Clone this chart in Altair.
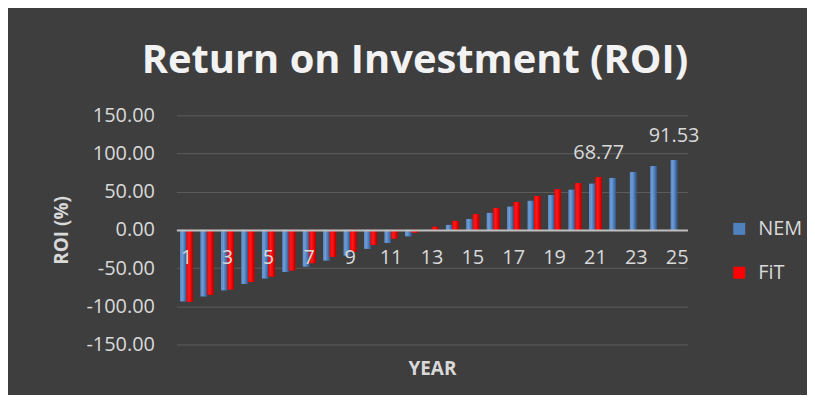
import altair as alt
import pandas as pd

years = list(range(1, 26))
nem_roi = [-93.5, -87.0, -79.0, -70.8, -63.5, -55.0, -48.0, -40.0, -33.5, -24.7,
           -16.9, -8.3, -0.8, 6.5, 14.3, 22.2, 30.3, 38.0, 45.6, 52.5,
           60.4, 68.0, 75.6, 83.4, 91.53]
fit_roi = [-94.0, -84.7, -78.0, -68.0, -61.0, -53.0, -43.5, -35.5, -28.5, -19.8,
           -11.3, -3.5, 4.0, 11.7, 20.4, 28.6, 36.5, 44.3, 53.0, 61.0,
           68.77]
series_names = ["NEM", "FiT"]
series_colors = ["#4f81bd", "#ff0000"]
labelled = {("FiT", 21), ("NEM", 25)}
x_tick_years = [1, 3, 5, 7, 9, 11, 13, 15, 17, 19, 21, 23, 25]
y_ticks = [-150, -100, -50, 0, 50, 100, 150]

rows = []
for y, v in zip(years, nem_roi):
    rows.append({"year": y, "series": "NEM", "roi": v,
                 "label": f"{v:.2f}" if ("NEM", y) in labelled else ""})
for y, v in zip(years[: len(fit_roi)], fit_roi):
    rows.append({"year": y, "series": "FiT", "roi": v,
                 "label": f"{v:.2f}" if ("FiT", y) in labelled else ""})
df = pd.DataFrame(rows)

FONT = "Open Sans"
TXT = "#d9d9d9"

x_enc = alt.X(
    "year:O",
    scale=alt.Scale(paddingInner=0.37, paddingOuter=0.185),
    axis=alt.Axis(
        values=x_tick_years,
        labelAngle=0,
        offset=-115,
        zindex=2,
        domainColor="#bfbfbf",
        domainWidth=2,
        ticks=False,
        grid=False,
        labelOverlap=False,
        labelPadding=18,
        labelFontSize=20,
        labelFont=FONT,
        labelColor=TXT,
        title="YEAR",
        titleFont=FONT,
        titleFontSize=19,
        titleFontWeight="bold",
        titleColor=TXT,
        titlePadding=92,
    ),
)
y_enc = alt.Y(
    "roi:Q",
    scale=alt.Scale(domain=[-150, 150], nice=False),
    axis=alt.Axis(
        values=y_ticks,
        tickCount=12,
        labelExpr="replace(format(datum.value, '.2f'), '\u2212', '-')",
        labelOverlap=False,
        domain=False,
        ticks=False,
        grid=True,
        gridColor="#5c5c5c",
        gridWidth=1,
        labelPadding=22,
        labelFontSize=20,
        labelFont=FONT,
        labelColor=TXT,
        title="ROI (%)",
        titleFont=FONT,
        titleFontSize=19,
        titleFontWeight="bold",
        titleColor=TXT,
        titlePadding=14,
    ),
)
xoff = alt.XOffset("series:N", sort=series_names)

bars = alt.Chart(df).mark_bar().encode(
    x=x_enc,
    y=y_enc,
    xOffset=xoff,
    color=alt.Color(
        "series:N",
        scale=alt.Scale(domain=series_names, range=series_colors),
        sort=series_names,
        legend=alt.Legend(
            title=None,
            orient="none",
            legendX=555,
            legendY=104,
            symbolType="square",
            symbolSize=144,
            symbolStrokeWidth=0,
            labelFontSize=20,
            labelFont=FONT,
            labelColor=TXT,
            labelOffset=9,
            rowPadding=24,
        ),
    ),
)

blue_grad = alt.Gradient(
    gradient="linear", x1=0, x2=1, y1=0, y2=0,
    stops=[alt.GradientStop(color="#5b8ccb", offset=0),
           alt.GradientStop(color="#6f9ad3", offset=0.35),
           alt.GradientStop(color="#3f6ea8", offset=0.8),
           alt.GradientStop(color="#2c5282", offset=1)],
)
red_grad = alt.Gradient(
    gradient="linear", x1=0, x2=1, y1=0, y2=0,
    stops=[alt.GradientStop(color="#f00000", offset=0),
           alt.GradientStop(color="#ff1a1a", offset=0.35),
           alt.GradientStop(color="#e00000", offset=0.8),
           alt.GradientStop(color="#a80000", offset=1)],
)
nem_bars = alt.Chart(df).transform_filter("datum.series == 'NEM'").mark_bar(
    fill=blue_grad
).encode(x="year:O", y="roi:Q", xOffset=xoff)
fit_bars = alt.Chart(df).transform_filter("datum.series == 'FiT'").mark_bar(
    fill=red_grad
).encode(x="year:O", y="roi:Q", xOffset=xoff)

labels = alt.Chart(df).transform_filter("datum.label != ''").mark_text(
    baseline="alphabetic", dy=-18, fontSize=20, font=FONT, color=TXT
).encode(x="year:O", y="roi:Q", xOffset=xoff, text="label:N")

chart = (
    alt.layer(bars, nem_bars, fit_bars, labels)
    .properties(
        width=513,
        height=230,
        autosize=alt.AutoSizeParams(type="none"),
        padding={"left": 169, "top": 107, "right": 120, "bottom": 50},
        background="#3e3e3e",
        title=alt.TitleParams(
            "Return on Investment (ROI)",
            font=FONT,
            fontSize=40,
            fontWeight="bold",
            color="#f2f2f2",
            anchor="middle",
            dx=-17,
            offset=24,
        ),
    )
    .configure_view(stroke=None)
)

chart.save("out.html", embed_options={"renderer": "svg", "actions": False})
